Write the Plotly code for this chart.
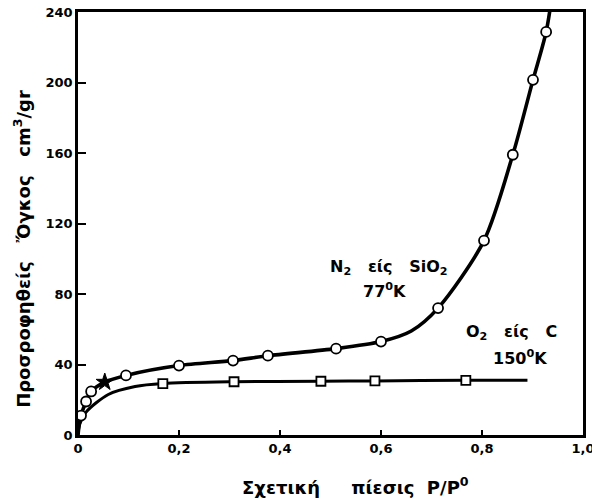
import plotly.graph_objects as go

# N2 on SiO2 at 77K - measured points
n2_x = [0.006, 0.016, 0.026, 0.095, 0.20, 0.307, 0.376, 0.511, 0.60, 0.713, 0.804, 0.861, 0.901, 0.927]
n2_y = [11, 19, 24.7, 33.8, 39.4, 42.2, 45, 49, 53, 72, 110.3, 159, 201.5, 228.7]
# starred point
star_x = [0.053]
star_y = [30]
# N2 smooth curve
n2_curve_x = [0, 0.002, 0.006, 0.016, 0.026, 0.053, 0.095, 0.20, 0.307, 0.376, 0.511, 0.60, 0.66, 0.713, 0.804, 0.861, 0.901, 0.927, 0.94]
n2_curve_y = [0, 5, 11, 19, 24.7, 30, 33.8, 39.4, 42.2, 45, 49, 53, 59, 72, 110.3, 159, 201.5, 228.7, 252]

# O2 on C at 150K - measured points
o2_x = [0.168, 0.309, 0.481, 0.588, 0.768]
o2_y = [29.2, 30.2, 30.5, 30.7, 31]
# O2 smooth curve
o2_curve_x = [0, 0.003, 0.016, 0.06, 0.113, 0.168, 0.309, 0.481, 0.588, 0.768, 0.89]
o2_curve_y = [0, 6, 13, 23, 27.5, 29.2, 30.2, 30.5, 30.7, 31, 31]

x_ticks = [0, 0.2, 0.4, 0.6, 0.8, 1.0]
x_ticklabels = ["0", "0,2", "0,4", "0,6", "0,8", "1,0"]
y_ticks = [0, 40, 80, 120, 160, 200, 240]
y_ticklabels = ["0", "40", "80", "120", "160", "200", "240"]

FONT = "DejaVu Sans"

fig = go.Figure()
fig.add_trace(go.Scatter(x=n2_curve_x, y=n2_curve_y, mode="lines",
                         line=dict(color="black", width=3.6, shape="spline", smoothing=0.8),
                         hoverinfo="skip"))
fig.add_trace(go.Scatter(x=o2_curve_x, y=o2_curve_y, mode="lines",
                         line=dict(color="black", width=3.0, shape="spline", smoothing=0.8),
                         hoverinfo="skip"))
fig.add_trace(go.Scatter(x=n2_x, y=n2_y, mode="markers",
                         marker=dict(symbol="circle", size=10, color="white",
                                     line=dict(color="black", width=1.8)), cliponaxis=False))
fig.add_trace(go.Scatter(x=star_x, y=star_y, mode="markers",
                         marker=dict(symbol="star", size=13, color="black",
                                     line=dict(color="black", width=1)), cliponaxis=False))
fig.add_trace(go.Scatter(x=o2_x, y=o2_y, mode="markers",
                         marker=dict(symbol="square", size=9, color="white",
                                     line=dict(color="black", width=1.8)), cliponaxis=False))

ann_font = dict(family=FONT, size=16, color="black")
fig.add_annotation(x=0.616, y=95, text="<b>N<sub>2</sub>   είς   SiO<sub>2</sub></b>",
                   showarrow=False, font=ann_font, xanchor="center", yanchor="middle")
fig.add_annotation(x=0.606, y=82, text="<b>77<sup>0</sup>K</b>",
                   showarrow=False, font=ann_font, xanchor="center", yanchor="middle")
fig.add_annotation(x=0.859, y=58, text="<b>O<sub>2</sub>   είς   C</b>",
                   showarrow=False, font=ann_font, xanchor="center", yanchor="middle")
fig.add_annotation(x=0.875, y=44, text="<b>150<sup>0</sup>K</b>",
                   showarrow=False, font=ann_font, xanchor="center", yanchor="middle")

# axis titles
fig.add_annotation(xref="paper", yref="paper", x=0.549, y=-0.12,
                   xanchor="center", yanchor="middle",
                   text="<b>Σχετική     πίεσις  P/P<sup>0</sup></b>",
                   showarrow=False, font=dict(family=FONT, size=18, color="black"))
fig.add_annotation(xref="paper", yref="paper", x=-0.111, y=0.44, textangle=-90,
                   xanchor="center", yanchor="middle",
                   text="<b>Προσροφηθείς   Ὄγκος   cm<sup>3</sup>/gr</b>",
                   showarrow=False, font=dict(family=FONT, size=18, color="black"))

fig.update_layout(
    width=592, height=499,
    margin=dict(l=78, r=9, t=12, b=64),
    paper_bgcolor="white", plot_bgcolor="white",
    showlegend=False,
    font=dict(family=FONT, size=13, color="black"),
)
fig.update_xaxes(range=[0, 1.0], tickvals=x_ticks, ticktext=["<b>%s</b>" % t for t in x_ticklabels],
                 ticks="inside", ticklen=5, tickwidth=1.5, tickcolor="black",
                 showline=True, linecolor="black", linewidth=2.5, mirror=True,
                 showgrid=False, zeroline=False, automargin=False,
                 ticklabeloverflow="allow",
                 tickfont=dict(family=FONT, size=13, color="black"))
fig.update_yaxes(range=[0, 240], tickvals=y_ticks, ticktext=["<b>%s</b>" % t for t in y_ticklabels],
                 ticks="inside", ticklen=8, tickwidth=1.5, tickcolor="black",
                 showline=True, linecolor="black", linewidth=2.5, mirror=True,
                 showgrid=False, zeroline=False, automargin=False,
                 ticklabeloverflow="allow",
                 tickfont=dict(family=FONT, size=13, color="black"))

fig.write_html("out.html", config={"displayModeBar": False},
               post_script="document.body.style.margin='0';document.body.style.overflow='hidden';")
